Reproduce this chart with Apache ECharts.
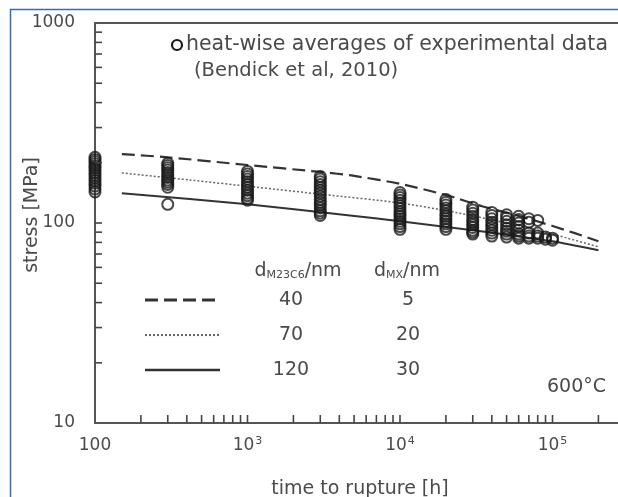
<!DOCTYPE html>
<html>
<head>
<meta charset="utf-8">
<script src="https://cdn.jsdelivr.net/npm/echarts@6/dist/echarts.min.js"></script>
<style>
html,body{margin:0;padding:0;background:#fff;}
#chart{width:618px;height:497px;}
</style>
</head>
<body>
<div id="chart"></div>
<script>
// ---- axis ticks & labels ----
const xLabelValues = [100, 1000, 10000, 100000];
const xLabelBase = ['100', '10', '10', '10'];
const xLabelExp = ['', '3', '4', '5'];
const yLabelValues = [10, 100, 1000];
const yLabelTexts = ['10', '100', '1000'];
const xMinorTicks = [200,300,400,500,600,700,800,900,1000,2000,3000,4000,5000,6000,7000,8000,9000,10000,20000,30000,40000,50000,60000,70000,80000,90000,100000,200000,300000];
const yMinorTicks = [20,30,40,50,60,70,80,90,100,200,300,400,500,600,700,800,900];

// ---- experimental heat-wise averages (time h -> stress MPa) ----
const expTimes = [100, 300, 1000, 3000, 10000, 20000, 30000, 40000, 50000, 60000, 70000, 80000, 90000, 100000];
const exp100 = [213, 208, 203, 198, 193, 188, 183, 178, 173, 168, 163, 158, 153, 148, 143];
const exp300 = [199, 194, 189, 184, 179, 174, 169, 164, 160, 156, 151, 124];
const exp1000 = [181, 176, 171, 166, 161, 156, 151, 146, 141, 137, 133, 130];
const exp3000 = [171, 166, 161, 156, 151, 146, 141, 136, 131, 127, 123, 119, 115, 112, 109];
const exp10000 = [142, 138, 134, 130, 126, 122, 118, 114, 111, 108, 105, 102, 99, 96, 93];
const exp20000 = [131, 127, 123, 119, 115, 111, 108, 105, 102, 99, 96, 93];
const exp30000 = [120, 116, 112, 108, 104, 101, 98, 95, 92, 90, 88];
const exp40000 = [113, 109, 105, 101, 98, 95, 92, 89, 86];
const exp50000 = [110, 106, 102, 98, 94, 91, 88, 85];
const exp60000 = [108, 104, 100, 96, 92, 88, 86, 84];
const exp70000 = [105, 101, 89, 86, 84];
const exp80000 = [103, 89, 86, 84];
const exp90000 = [85, 83];
const exp100000 = [84, 82];
const expColumns = [exp100, exp300, exp1000, exp3000, exp10000, exp20000, exp30000, exp40000, exp50000, exp60000, exp70000, exp80000, exp90000, exp100000];

// ---- model curves (time h, stress MPa) ----
const curve40_5 = [[150,221],[300,213],[1000,195],[3000,180],[5000,172],[10000,157],[20000,138],[35000,121],[70000,105],[140000,89],[200000,81]];
const curve70_20 = [[150,178],[420,164],[1150,151],[3100,139],[10000,126],[23000,113],[50000,100],[100000,88],[200000,76]];
const curve120_30 = [[150,141],[1000,124],[4700,109],[10000,102],[30000,92],[100000,81],[200000,73]];

// ---- legend table ----
const legendM23C6 = ['40', '70', '120'];
const legendMX = ['5', '20', '30'];

const FONT = 'DejaVu Sans';
const TXT = '#4a4a4a';
const INK = '#1a1a1a';

const expData = [];
expColumns.forEach((col, i) => col.forEach(s => expData.push([expTimes[i], s])));

const chart = echarts.init(document.getElementById('chart'), null, {renderer: 'canvas'});

function tickSeries(data, horizontal) {
  return {
    type: 'custom',
    coordinateSystem: 'cartesian2d',
    silent: true,
    z: 5,
    data: data,
    renderItem: function (params, api) {
      const p = api.coord([api.value(0), api.value(1)]);
      return {
        type: 'line',
        shape: horizontal ? {x1: p[0], y1: p[1], x2: p[0] + 7, y2: p[1]} : {x1: p[0], y1: p[1], x2: p[0], y2: p[1] - 8},
        style: {stroke: '#444', lineWidth: 1.6}
      };
    }
  };
}

const lineStyles = [
  {type: [13, 6], width: 2.2, color: '#333'},
  {type: [2, 2], width: 1.5, color: '#666'},
  {type: 'solid', width: 2, color: '#333'}
];

const legendGraphics = [];
const rowY = [300, 335, 370];
legendM23C6.forEach((m23, i) => {
  const ls = lineStyles[i];
  legendGraphics.push({
    type: 'line', shape: {x1: 145, y1: rowY[i], x2: 220, y2: rowY[i]},
    style: {stroke: ls.color, lineWidth: ls.width + 0.6, lineDash: ls.type === 'solid' ? null : ls.type}
  });
  legendGraphics.push({type: 'text', x: 291, y: rowY[i], style: {text: m23, font: '19px ' + FONT, fill: TXT, align: 'center', verticalAlign: 'middle'}});
  legendGraphics.push({type: 'text', x: 408, y: rowY[i], style: {text: legendMX[i], font: '19px ' + FONT, fill: TXT, align: 'center', verticalAlign: 'middle'}});
});

const richSub = {
  b: {fontSize: 19, fontFamily: FONT, fill: TXT, color: TXT, lineHeight: 24},
  s: {fontSize: 11, fontFamily: FONT, fill: TXT, color: TXT, lineHeight: 24, padding: [9, 0, 0, 0]}
};

const option = {
  animation: false,
  backgroundColor: '#fff',
  grid: {left: 95, top: 23, width: 610, height: 400, show: true, borderColor: '#555', borderWidth: 2,
    backgroundColor: 'transparent', outerBoundsMode: 'none', containLabel: false},
  xAxis: {
    type: 'log', logBase: 10, min: 100, max: 1000000, splitNumber: 4,
    axisLine: {show: true, lineStyle: {color: '#555', width: 2}},
    axisTick: {show: false}, splitLine: {show: false},
    axisLabel: {
      margin: 12, color: TXT, fontFamily: FONT, fontSize: 17,
      formatter: function (v) {
        const i = xLabelValues.findIndex(x => Math.abs(x - v) / x < 1e-6);
        if (i < 0) return '';
        return '{b|' + xLabelBase[i] + '}' + (xLabelExp[i] ? '{sup|' + xLabelExp[i] + '}' : '');
      },
      rich: {
        b: {fontSize: 17, fontFamily: FONT, color: TXT, lineHeight: 22},
        sup: {fontSize: 11, fontFamily: FONT, color: TXT, lineHeight: 22, padding: [0, 0, 10, 1]}
      }
    }
  },
  yAxis: {
    type: 'log', logBase: 10, min: 10, max: 1000, splitNumber: 2,
    axisLine: {show: true, lineStyle: {color: '#555', width: 2}},
    axisTick: {show: false}, splitLine: {show: false},
    axisLabel: {
      margin: 20, color: TXT, fontFamily: FONT, fontSize: 17,
      formatter: function (v) {
        const i = yLabelValues.findIndex(x => Math.abs(x - v) / x < 1e-6);
        return i < 0 ? '' : yLabelTexts[i];
      }
    }
  },
  series: [
    tickSeries(xMinorTicks.map(t => [t, 10]), false),
    tickSeries(yMinorTicks.map(s => [100, s]), true),
    {type: 'line', data: curve40_5, showSymbol: false, smooth: 0.25, lineStyle: lineStyles[0], z: 3},
    {type: 'line', data: curve70_20, showSymbol: false, smooth: 0.25, lineStyle: lineStyles[1], z: 3},
    {type: 'line', data: curve120_30, showSymbol: false, smooth: 0.25, lineStyle: lineStyles[2], z: 3},
    {type: 'scatter', data: expData, symbol: 'circle', symbolSize: 11,
      itemStyle: {color: 'rgba(0,0,0,0)', borderColor: INK, borderWidth: 2}, z: 4}
  ],
  graphic: [
    {type: 'rect', shape: {x: 10.5, y: 9.5, width: 1000, height: 1000}, style: {fill: 'none', stroke: '#2e6fb5', lineWidth: 1.5}, z: 100},
    {type: 'circle', shape: {cx: 177, cy: 45, r: 5}, style: {fill: 'none', stroke: INK, lineWidth: 2.2}},
    {type: 'text', x: 186, y: 45, style: {text: 'heat-wise averages of experimental data', font: '20.5px ' + FONT, fill: TXT, verticalAlign: 'middle'}},
    {type: 'text', x: 194, y: 71, style: {text: '(Bendick et al, 2010)', font: '19.5px ' + FONT, fill: TXT, verticalAlign: 'middle'}},
    {type: 'text', x: 298, y: 271, style: {text: '{b|d}{s|M23C6}{b|/nm}', align: 'center', verticalAlign: 'middle', rich: richSub}},
    {type: 'text', x: 407, y: 271, style: {text: '{b|d}{s|MX}{b|/nm}', align: 'center', verticalAlign: 'middle', rich: richSub}},
    ...legendGraphics,
    {type: 'text', x: 606, y: 387, style: {text: '600°C', font: '19px ' + FONT, fill: TXT, align: 'right', verticalAlign: 'middle'}},
    {type: 'text', x: 360, y: 489, style: {text: 'time to rupture [h]', font: '19px ' + FONT, fill: TXT, align: 'center', verticalAlign: 'middle'}},
    {type: 'text', x: 32, y: 215, rotation: Math.PI / 2, style: {text: 'stress [MPa]', font: '19px ' + FONT, fill: TXT, align: 'center', verticalAlign: 'middle'}}
  ]
};
chart.setOption(option);
</script>
</body>
</html>
